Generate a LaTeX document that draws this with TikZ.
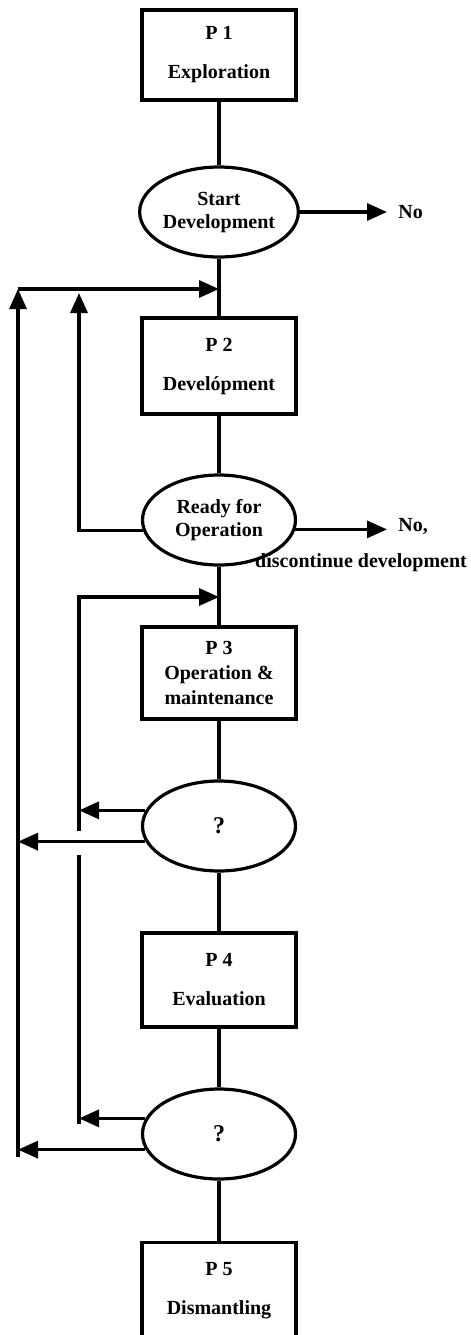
\documentclass[tikz,border=0pt]{standalone}
\usepackage{fontspec}
\setmainfont{Liberation Serif}
\usepackage{tikz}
\usetikzlibrary{shapes.geometric, arrows.meta, positioning, calc}
\tikzset{
    phasebox/.style={draw, rectangle, line width=1.6pt, minimum width=77pt, minimum height=46pt, inner sep=0pt, font=\fontsize{10}{12.5}\selectfont\bfseries, align=center},
    decision/.style={draw, ellipse, line width=1.6pt, minimum width=76.5pt, minimum height=45pt, inner sep=0pt, font=\fontsize{10}{11.5}\selectfont\bfseries, align=center},
    link/.style={line width=1.6pt},
    loopline/.style={line width=1.6pt, -{Triangle[length=10pt, width=8.5pt]}},
    outlabel/.style={font=\fontsize{10}{12}\selectfont\bfseries, inner xsep=5.5pt, inner ysep=0pt},
}

\begin{document}
\begin{tikzpicture}[x=0.5pt, y=-0.5pt]
                \useasboundingbox (0,0) rectangle (471,1335);

                % Phases and decisions
                \node[phasebox, minimum height=45pt] (p1) at (219,55) {P 1\\[7pt]Exploration};
                \node[decision] (start) at (219,212) {Start\\Development};
                \node[phasebox, minimum height=48pt] (p2) at (219,366) {P 2\\[7pt]Develópment};
                \node[decision] (ready) at (219,520) {Ready for\\Operation};
                \node[phasebox] (p3) at (219,673) {P 3\\Operation \&\\maintenance};
                \node[decision] (q1) at (219,826) {\fontsize{12}{12}\selectfont ?};
                \node[phasebox, minimum height=47pt] (p4) at (219,980) {P 4\\[7pt]Evaluation};
                \node[decision] (q2) at (219,1134) {\fontsize{12}{12}\selectfont ?};
                \node[phasebox, minimum height=48.5pt] (p5) at (219,1291) {P 5\\[7pt]Dismantling};

                % Exits to the right
                \node[outlabel, anchor=west] (no1) at (387,212) {No};
                \node[outlabel, anchor=west] (no2) at (387,526) {No,};
                \node[outlabel, inner xsep=0pt] (disc) at (361,563) {discontinue development};

                % Main flow
                \draw[link] (p1) -- (start);
                \draw[link] (start) -- (p2);
                \draw[link] (p2) -- (ready);
                \draw[link] (ready) -- (p3);
                \draw[link] (p3) -- (q1);
                \draw[link] (q1) -- (p4);
                \draw[link] (p4) -- (q2);
                \draw[link] (q2) -- (p5);

                \draw[loopline] (start.east) -- (no1.west);
                \draw[loopline] (ready.353) -- (ready.353 -| no2.west);

                % Loop points
                \coordinate (in2) at (219,289);
                \coordinate (in3) at (219,597);
                \coordinate (outtop) at (18,289);
                \coordinate (outbot) at (18,1157);
                \coordinate (devtop) at (79,293);
                \coordinate (optop) at (79,597);
                \coordinate (opbot) at (79,1124);
                \coordinate (gaphi) at (79,831);
                \coordinate (gaplo) at (79,855);

                % Back to development
                \draw[loopline] (outbot) -- (outtop);
                \draw[loopline] (outtop) -- (in2);
                \draw[loopline] (ready.188) -| (devtop);
                \draw[loopline] (q1.192) -- (q1.192 -| outtop);
                \draw[loopline] (q2.192) -- (q2.192 -| outtop);

                % Back to operation
                \draw[link] (opbot) -- (gaplo);
                \draw[loopline] (gaphi) -- (optop) -- (in3);
                \draw[loopline] (q1.168) -- (q1.168 -| optop);
                \draw[loopline] (q2.168) -- (q2.168 -| optop);
            \end{tikzpicture}
\end{document}
